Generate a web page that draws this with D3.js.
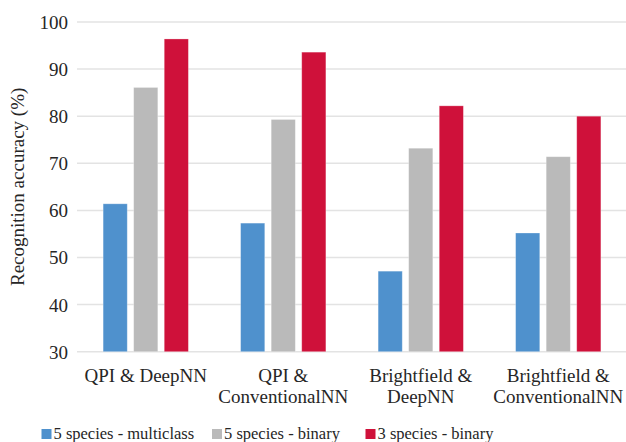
<!DOCTYPE html>
<html>
<head>
<meta charset="utf-8">
<script src="https://cdn.jsdelivr.net/npm/d3@7"></script>
<style>
html,body{margin:0;padding:0;background:#fff;}
svg{display:block;}
text{font-family:"Liberation Serif","Times New Roman",serif;fill:#262626;}
</style>
</head>
<body>
<svg id="chart" width="626" height="442" font-family="Liberation Serif, Times New Roman, serif"></svg>
<script>
const categories = [["QPI & DeepNN"], ["QPI &", "ConventionalNN"], ["Brightfield &", "DeepNN"], ["Brightfield &", "ConventionalNN"]];
const seriesNames = ["5 species - multiclass", "5 species - binary", "3 species - binary"];
const multiclass5 = [61.4, 57.3, 47.1, 55.2];
const binary5 = [86.1, 79.3, 73.2, 71.4];
const binary3 = [96.4, 93.6, 82.2, 80.0];
const yTicks = [30, 40, 50, 60, 70, 80, 90, 100];
const colors = ["#4F91CD", "#BABABA", "#CF113A"];

const FONT = "Liberation Serif, Times New Roman, serif";
const seriesValues = [multiclass5, binary5, binary3];
const svg = d3.select("#chart");
const catKeys = categories.map((c, i) => i);

const x0 = d3.scaleBand().domain(catKeys).range([77, 627]).paddingInner(0.38).paddingOuter(0.19);
const x1 = d3.scaleBand().domain(d3.range(seriesNames.length)).range([0, x0.bandwidth()]).paddingInner(0.21).paddingOuter(0);
const y = d3.scaleLinear().domain([30, 100]).range([351.7, 22]);

// gridlines
svg.append("g").selectAll("line").data(yTicks).join("line")
  .attr("x1", 77).attr("x2", 626)
  .attr("y1", d => y(d)).attr("y2", d => y(d))
  .attr("stroke", "#E3E3E3").attr("stroke-width", 1.5);

// y axis labels
const yAxis = d3.axisLeft(y).tickValues(yTicks).tickSize(0).tickPadding(9);
const ya = svg.append("g").attr("transform", "translate(77,0)").call(yAxis).attr("font-family", FONT);
ya.select(".domain").remove();
ya.selectAll("text").attr("font-size", 19).attr("font-family", FONT).attr("fill", "#262626").attr("dy", "0.34em");

// bars
const groups = svg.append("g").selectAll("g").data(catKeys).join("g")
  .attr("transform", d => `translate(${x0(d)},0)`);
groups.selectAll("rect").data(ci => seriesValues.map((s, si) => ({si, v: s[ci]}))).join("rect")
  .attr("x", d => x1(d.si))
  .attr("width", x1.bandwidth())
  .attr("y", d => y(d.v))
  .attr("height", d => y(30) - y(d.v))
  .attr("fill", d => colors[d.si])
  .attr("stroke", "#ffffff").attr("stroke-opacity", 0.35).attr("stroke-width", 0.8);

// x labels
const xl = svg.append("g").selectAll("text").data(catKeys).join("text")
  .attr("x", d => x0(d) + x0.bandwidth() / 2)
  .attr("y", 382)
  .attr("text-anchor", "middle")
  .attr("font-family", FONT)
  .attr("font-size", 19);
xl.selectAll("tspan").data(d => categories[d]).join("tspan")
  .attr("x", function() { return d3.select(this.parentNode).attr("x"); })
  .attr("dy", (d, i) => i === 0 ? 0 : 21)
  .text(d => d);

// y title
svg.append("text")
  .attr("transform", `translate(24,${(y(30) + y(100)) / 2}) rotate(-90)`)
  .attr("text-anchor", "middle")
  .attr("font-family", FONT)
  .attr("font-size", 19)
  .text("Recognition accuracy (%)");

// legend
const legendX = [41.5, 212, 365.5];
const lg = svg.append("g").selectAll("g").data(seriesNames).join("g")
  .attr("transform", (d, i) => `translate(${legendX[i]},0)`);
lg.append("rect").attr("x", 0).attr("y", 429).attr("width", 10).attr("height", 10)
  .attr("fill", (d, i) => colors[i]);
lg.append("text").attr("x", 12).attr("y", 439).attr("font-family", FONT).attr("font-size", 16.5).text(d => d);
</script>
</body>
</html>
